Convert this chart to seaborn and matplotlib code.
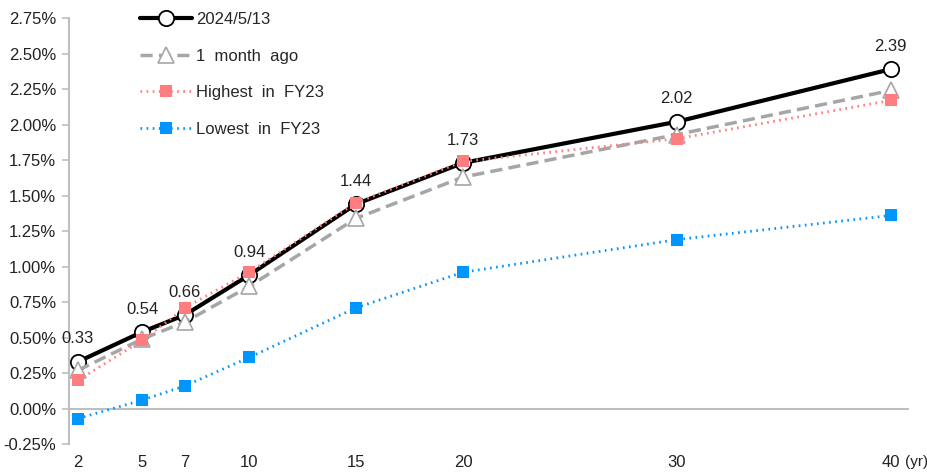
import matplotlib
matplotlib.use("Agg")
import matplotlib.pyplot as plt
import seaborn as sns
import pandas as pd
from matplotlib.ticker import FuncFormatter, FixedLocator

# Tenors (years) and yield curves (%)
tenors = [2, 5, 7, 10, 15, 20, 30, 40]
curve_latest = [0.33, 0.54, 0.66, 0.94, 1.44, 1.73, 2.02, 2.39]
curve_month_ago = [0.27, 0.49, 0.61, 0.86, 1.34, 1.63, 1.93, 2.24]
curve_high_fy23 = [0.20, 0.48, 0.71, 0.96, 1.45, 1.74, 1.90, 2.17]
curve_low_fy23 = [-0.07, 0.06, 0.16, 0.36, 0.71, 0.96, 1.19, 1.36]

series_names = ["2024/5/13", "1  month  ago", "Highest  in  FY23", "Lowest  in  FY23"]
y_ticks = [-0.25, 0.0, 0.25, 0.5, 0.75, 1.0, 1.25, 1.5, 1.75, 2.0, 2.25, 2.5, 2.75]

sns.set_theme(style="white")
plt.rcParams["font.family"] = ["Liberation Sans", "DejaVu Sans"]

FS = 12
TXT = "#222222"

fig = plt.figure(figsize=(9.28, 4.75), dpi=100)
ax = fig.add_axes([0.074, 0.065, 0.905, 0.897])

styles = [
    dict(color="black", lw=3.0, ls="-", marker="o", ms=11, mfc="white", mec="black", mew=1.3),
    dict(color="#A6A6A6", lw=2.5, ls=(0, (3.5, 1.8)), marker="^", ms=11, mfc="white", mec="#A6A6A6", mew=1.2),
    dict(color="#FF7C80", lw=2.0, ls=(0, (0.6, 1.6)), marker="s", ms=9, mfc="#FF7C80", mec="#FF7C80", mew=0),
    dict(color="#0096FF", lw=2.0, ls=(0, (0.6, 1.6)), marker="s", ms=9, mfc="#0096FF", mec="#0096FF", mew=0),
]
all_curves = [curve_latest, curve_month_ago, curve_high_fy23, curve_low_fy23]

for name, vals, st in zip(series_names, all_curves, styles):
    df = pd.DataFrame({"tenor": tenors, "yield": vals})
    sns.lineplot(data=df, x="tenor", y="yield", ax=ax, label=name,
                 color=st["color"], linewidth=st["lw"],
                 marker=st["marker"], markersize=st["ms"],
                 markerfacecolor=st["mfc"], markeredgecolor=st["mec"],
                 markeredgewidth=st["mew"])
    ax.lines[-1].set_linestyle(st["ls"])

# Value labels for the latest curve
for t, v in zip(tenors, curve_latest):
    ax.annotate(f"{v:.2f}", (t, v), xytext=(0, 11), textcoords="offset points",
                ha="center", va="bottom", fontsize=FS, color=TXT)

ax.set_xlim(1.565, 40.83)
ax.set_ylim(-0.25, 2.75)
ax.yaxis.set_major_locator(FixedLocator(y_ticks))
ax.yaxis.set_major_formatter(FuncFormatter(lambda v, p: f"{v:.2f}%"))
ax.set_xticks(tenors)
ax.set_xticklabels([str(t) for t in tenors])
ax.set_xlabel("")
ax.set_ylabel("")

for side in ["top", "right", "bottom"]:
    ax.spines[side].set_visible(False)
ax.spines["left"].set_color("#BFBFBF")
ax.spines["left"].set_linewidth(1.5)
ax.axhline(0, color="#BFBFBF", lw=1.5, zorder=0)

ax.tick_params(axis="y", which="major", left=True, length=5, width=1.2, color="#BFBFBF",
               labelsize=FS, labelcolor=TXT, pad=4)
ax.tick_params(axis="x", which="major", bottom=False, length=0, labelsize=FS,
               labelcolor=TXT, pad=8)

# Unit marker next to the last tenor label
ax.annotate("(yr)", xy=(40, 0), xycoords=("data", "axes fraction"),
            xytext=(10, -8), textcoords="offset points",
            ha="left", va="top", fontsize=11, color=TXT)

ax.legend(loc="upper left", bbox_to_anchor=(0.077, 1.03), frameon=False,
          fontsize=FS, handlelength=3.1, labelspacing=1.3, handletextpad=0.25,
          borderaxespad=0)

fig.savefig("out.png", dpi=100)
